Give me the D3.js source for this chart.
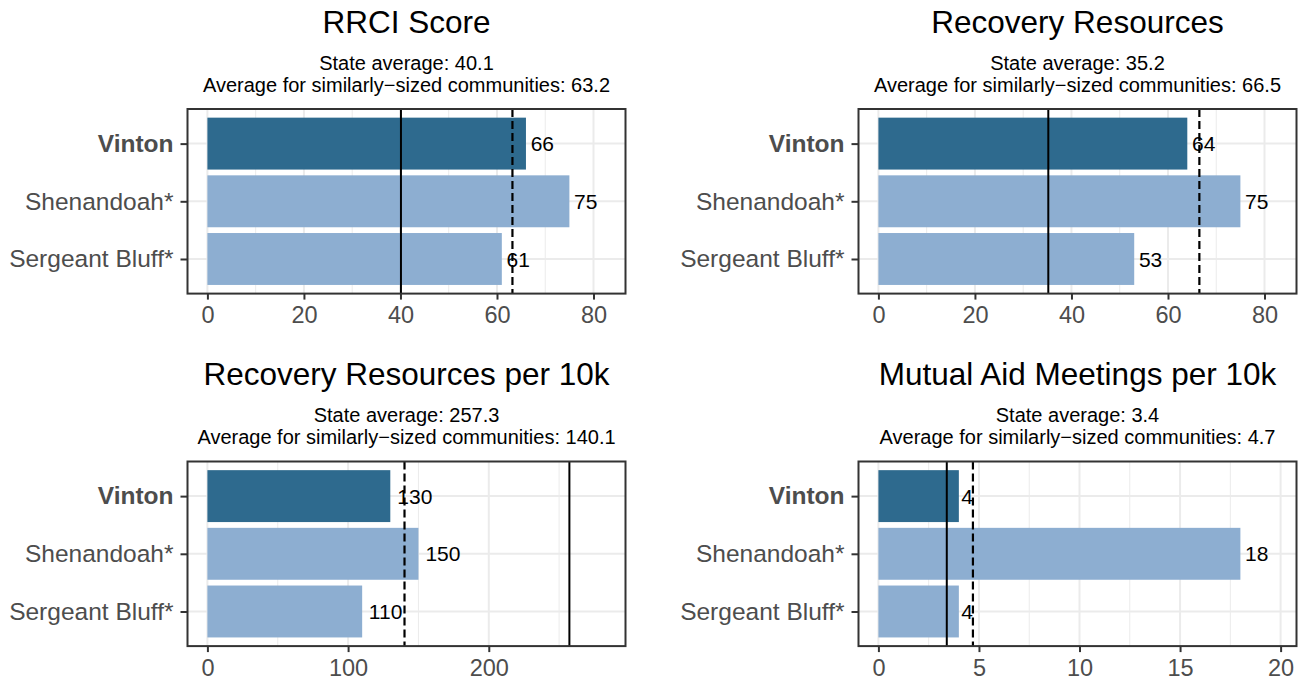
<!DOCTYPE html>
<html>
<head>
<meta charset="utf-8">
<title>Recovery panels</title>
<script src="https://d3js.org/d3.v7.min.js"></script>
<style>
  body { margin: 0; background: #fff; }
  text { font-family: "Liberation Sans", Arial, Helvetica, sans-serif; }
</style>
</head>
<body>
<div id="chart"></div>
<script>
// data
const places = ["Vinton", "Shenandoah*", "Sergeant Bluff*"];
const titles = ["RRCI Score", "Recovery Resources", "Recovery Resources per 10k", "Mutual Aid Meetings per 10k"];
const rrciScore = [66, 75, 61];
const recoveryResources = [64, 75, 53];
const resourcesPer10k = [130, 150, 110];
const meetingsPer10k = [4, 18, 4];
const stateAvg = [40.1, 35.2, 257.3, 3.4];
const similarAvg = [63.2, 66.5, 140.1, 4.7];
const xTicks = [[0, 20, 40, 60, 80], [0, 20, 40, 60, 80], [0, 100, 200], [0, 5, 10, 15, 20]];
const minorTicks = [[10, 30, 50, 70], [10, 30, 50, 70], [50, 150, 250], [2.5, 7.5, 12.5, 17.5]];

const W = 1304, H = 683;
const svg = d3.select("#chart").append("svg")
    .attr("width", W).attr("height", H);

const panelW = 438, panelH = 184.6;
const cols = [187.5, 858.5];
const rows = [109, 461.5];

function drawPanel(i, values) {
  let x0 = cols[i % 2], y0 = rows[Math.floor(i / 2)];
  let g = svg.append("g").attr("transform", "translate(" + x0 + "," + y0 + ")");

  // upper limit is 110% of the largest value or reference line, plus 5% padding
  let top = d3.max([d3.max(values), stateAvg[i], similarAvg[i]]) * 1.1;
  let x = d3.scaleLinear()
      .domain([-0.05 * top, 1.05 * top])
      .range([0, panelW]);
  // 3 categories + 0.6 expansion on each side
  let step = panelH / 3.2;
  let yc = d => 0.6 * step + places.indexOf(d) * step;

  // grid
  g.selectAll(".minor").data(minorTicks[i].filter(t => x(t) < panelW)).enter()
    .append("line")
      .attr("x1", d => x(d)).attr("x2", d => x(d))
      .attr("y1", 0).attr("y2", panelH)
      .attr("stroke", "#ebebeb").attr("stroke-width", 1);
  g.selectAll(".major").data(xTicks[i]).enter()
    .append("line")
      .attr("x1", d => x(d)).attr("x2", d => x(d))
      .attr("y1", 0).attr("y2", panelH)
      .attr("stroke", "#ebebeb").attr("stroke-width", 2);
  g.selectAll(".hgrid").data(places).enter()
    .append("line")
      .attr("x1", 0).attr("x2", panelW)
      .attr("y1", d => yc(d)).attr("y2", d => yc(d))
      .attr("stroke", "#ebebeb").attr("stroke-width", 2);

  // bars
  g.selectAll(".bar").data(places).enter()
    .append("rect")
      .attr("x", x(0))
      .attr("y", d => yc(d) - 0.45 * step)
      .attr("width", (d, k) => x(values[k]) - x(0))
      .attr("height", 0.9 * step)
      .attr("fill", (d, k) => k == 0 ? "#2e6a8e" : "#8daed1");

  // value labels
  g.selectAll(".lab").data(places).enter()
    .append("text")
      .attr("y", d => yc(d))
      .attr("dy", "0.36em")
      .attr("font-size", "21px")
      .attr("fill", "#000")
      .text((d, k) => d3.format(".0f")(values[k]))
      .attr("x", function(d, k) {
        return x(values[k]) + 0.2 * this.getComputedTextLength();
      });

  // reference lines
  g.append("line")
      .attr("x1", x(stateAvg[i])).attr("x2", x(stateAvg[i]))
      .attr("y1", 0).attr("y2", panelH)
      .attr("stroke", "#000").attr("stroke-width", 2);
  g.append("line")
      .attr("x1", x(similarAvg[i])).attr("x2", x(similarAvg[i]))
      .attr("y1", 0).attr("y2", panelH)
      .attr("stroke", "#000").attr("stroke-width", 2.2)
      .attr("stroke-dasharray", "8,4");

  // border
  g.append("rect")
      .attr("width", panelW).attr("height", panelH)
      .attr("fill", "none").attr("stroke", "#333").attr("stroke-width", 2);

  // x axis
  let xAxis = d3.axisBottom(x).tickValues(xTicks[i]).tickSize(6).tickPadding(7);
  let ax = g.append("g")
      .attr("transform", "translate(0," + panelH + ")")
      .call(xAxis);
  ax.select(".domain").remove();
  ax.selectAll(".tick line").attr("stroke", "#333").attr("stroke-width", 2);
  ax.selectAll(".tick text")
      .attr("font-size", "23.5px").attr("fill", "#4d4d4d")
      .attr("font-family", "Liberation Sans, Arial, sans-serif");

  // y axis
  let yAxis = d3.axisLeft(d3.scaleOrdinal().domain(places).range(places.map(yc)))
      .tickSize(7).tickPadding(7);
  let ay = g.append("g").call(yAxis);
  ay.select(".domain").remove();
  ay.selectAll(".tick line").attr("stroke", "#333").attr("stroke-width", 2);
  ay.selectAll(".tick text")
      .attr("font-size", "24.5px").attr("fill", "#4d4d4d")
      .attr("font-family", "Liberation Sans, Arial, sans-serif")
      .attr("font-weight", d => d == "Vinton" ? "bold" : "normal");

  // titles
  let cx = panelW / 2;
  g.append("text")
      .attr("x", cx).attr("y", -76.5)
      .attr("text-anchor", "middle")
      .attr("font-size", "31.5px")
      .text(titles[i]);
  g.append("text")
      .attr("x", cx).attr("y", -39.5)
      .attr("text-anchor", "middle")
      .attr("font-size", "20px")
      .text("State average: " + stateAvg[i]);
  g.append("text")
      .attr("x", cx).attr("y", -17.5)
      .attr("text-anchor", "middle")
      .attr("font-size", "20px")
      .text("Average for similarly\u2212sized communities: " + similarAvg[i]);
}

drawPanel(0, rrciScore);
drawPanel(1, recoveryResources);
drawPanel(2, resourcesPer10k);
drawPanel(3, meetingsPer10k);
</script>
</body>
</html>
